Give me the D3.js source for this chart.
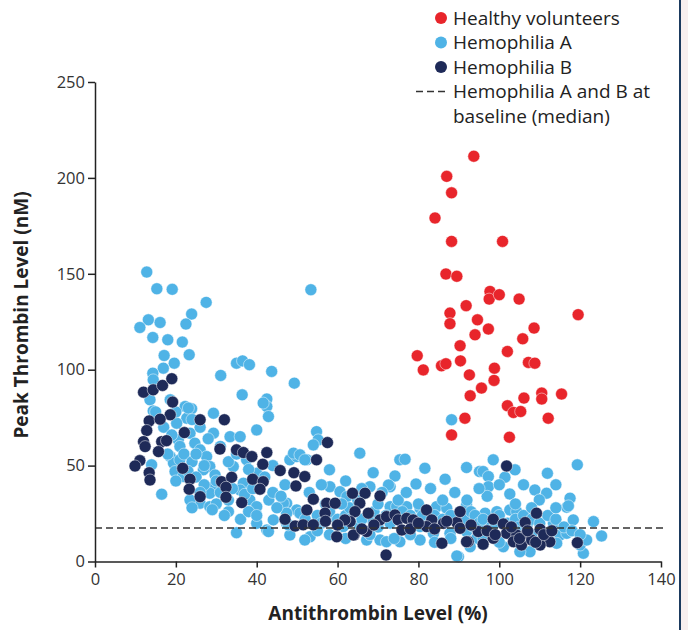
<!DOCTYPE html>
<html>
<head>
<meta charset="utf-8">
<script src="https://cdn.jsdelivr.net/npm/d3@7/dist/d3.min.js"></script>
<style>
  body { margin: 0; background: #fff; }
  svg { display: block; font-family: "Open Sans", "DejaVu Sans", sans-serif; }
  .axis path, .axis line { stroke: #222; stroke-width: 1.5; }
  .axis text { font-size: 16.5px; fill: #333; font-family: "Open Sans", sans-serif; }
</style>
</head>
<body>
<div id="chart"></div>
<script>
// data: [antithrombin %, peak thrombin nM]
var healthyPts = [
  [93.7,211.3],[87.0,200.8],[88.2,192.2],[84.1,179.1],[88.2,166.9],[100.8,166.9],
  [86.8,149.9],[89.5,148.7],[97.7,140.8],[97.5,136.8],[100.0,139.1],[104.9,136.8],
  [119.5,128.7],[91.8,133.4],[87.8,129.5],[87.8,124.0],[94.6,126.0],[97.3,121.2],
  [94.0,118.2],[108.6,121.7],[105.8,116.1],[90.3,112.5],[102.0,109.5],[79.7,107.3],
  [90.4,104.6],[107.2,103.8],[108.8,103.4],[81.2,99.9],[85.7,102.0],[86.8,103.1],
  [98.8,100.8],[92.6,97.3],[98.7,94.4],[95.6,90.4],[92.8,86.4],[106.1,85.2],
  [110.5,87.8],[110.5,84.7],[115.4,87.3],[102.0,81.2],[103.5,77.7],[105.3,78.2],
  [91.5,74.7],[112.1,74.7],[88.2,66.0],[102.5,64.8]
];

var hemAPts = [
  [12.8,150.9],[15.3,142.2],[19.1,141.9],[27.5,135.1],[23.9,129.0],[22.5,123.8],
  [13.2,126.0],[16.1,124.6],[11.1,122.0],[14.3,116.8],[18.0,115.6],[21.6,114.4],
  [23.3,107.8],[17.1,107.4],[19.6,103.4],[16.9,100.8],[14.3,98.2],[14.4,94.7],
  [31.1,97.0],[35.0,103.4],[36.5,104.6],[38.2,102.6],[43.7,99.1],[49.3,93.0],
  [36.4,86.9],[42.5,84.7],[42.5,80.8],[42.9,75.6],[53.4,141.7],[13.6,84.3],
  [18.6,84.3],[14.4,78.5],[22.3,80.8],[23.9,79.6],[22.7,74.7],[29.3,77.3],
  [16.5,35.1],[14.0,50.4],[18.6,54.7],[19.4,51.3],[19.8,46.9],[23.1,80.0],
  [20.2,72.1],[20.6,63.4],[23.5,66.9],[24.7,61.7],[26.0,58.2],[27.6,54.7],
  [28.4,49.5],[26.8,47.8],[29.7,45.1],[29.3,39.0],[28.4,35.6],[26.0,30.4],
  [28.4,28.6],[33.0,26.0],[29.3,66.9],[33.4,65.1],[35.9,65.1],[40.0,68.6],
  [37.5,53.0],[34.2,49.5],[36.7,40.8],[35.9,37.3],[38.3,32.1],[40.0,28.6],
  [41.6,82.6],[21.0,53.0],[21.8,44.3],[23.5,32.1],[35.0,15.0],[42.5,16.4],
  [40.0,19.9],[44.1,21.7],[47.4,19.9],[47.4,30.4],[49.9,26.9],[48.2,53.0],
  [49.9,54.7],[42.9,15.6],[48.2,13.8],[54.8,67.7],[55.2,63.4],[54.0,60.8],
  [49.1,56.5],[50.7,55.6],[52.4,53.0],[58.0,47.8],[65.5,56.5],[51.9,53.0],
  [68.8,46.3],[75.4,53.0],[76.7,53.3],[81.6,48.6],[74.2,44.6],[79.4,40.4],
  [86.6,42.9],[91.9,49.0],[95.1,46.9],[73.0,39.0],[58.1,39.0],[46.6,30.4],
  [47.4,25.2],[50.7,25.2],[47.8,19.1],[53.2,12.9],[60.6,36.4],[62.3,33.8],
  [58.1,23.4],[61.4,18.2],[65.5,18.2],[68.8,20.8],[68.0,39.0],[73.0,28.6],
  [74.6,28.6],[77.1,28.6],[80.4,27.8],[84.5,28.6],[87.0,27.8],[77.9,16.4],
  [80.4,18.2],[83.7,14.7],[87.8,14.7],[91.9,15.6],[93.6,18.2],[80.4,11.2],
  [75.4,10.3],[70.5,11.2],[67.2,11.2],[89.9,2.5],[51.9,11.2],[72.1,10.3],
  [88.2,73.9],[98.5,53.0],[103.9,47.8],[96.0,46.9],[97.3,44.3],[101.4,43.9],
  [97.3,39.0],[102.6,35.2],[111.9,46.0],[119.3,50.4],[108.8,37.3],[111.7,35.6],
  [109.9,32.1],[117.5,33.0],[116.7,28.3],[118.3,21.7],[123.3,20.8],[125.3,13.3],
  [120.8,4.3],[120.0,8.6],[121.6,11.2],[96.5,25.2],[99.4,26.0],[102.6,26.9],
  [104.3,26.0],[96.9,19.9],[113.4,19.9],[115.0,13.8],[114.2,9.5],[94.4,12.1],
  [92.8,7.7],[107.6,5.1],[105.1,5.1],[101.0,7.7],[110.9,14.7],[116.7,14.7],
  [91.9,29.5],[91.1,21.7],[72.6,39.9],[117.1,29.0],[89.5,2.9],
  [15.0,78.0],[17.0,70.0],[19.0,66.0],[21.0,60.0],[18.0,56.0],[22.0,56.0],
  [24.0,52.0],[25.0,56.0],[27.0,50.0],[23.0,47.0],[20.0,42.0],[25.0,44.0],
  [27.0,40.0],[30.0,42.0],[31.0,36.0],[33.0,32.0],[34.0,38.0],[30.0,30.0],
  [26.0,36.0],[24.0,28.0],[29.0,27.0],[32.0,24.0],[36.0,22.0],[38.0,26.0],
  [40.0,24.0],[37.0,35.0],[39.0,38.0],[43.0,32.0],[45.0,28.0],[44.0,36.0],
  [46.0,34.0],[47.0,40.0],[40.0,46.0],[42.0,44.0],[44.0,50.0],[38.0,48.0],
  [33.0,52.0],[35.0,56.0],[31.0,60.0],[28.0,64.0],[26.0,70.0],[24.0,74.0],
  [20.0,78.0],[52.0,22.0],[55.0,24.0],[56.0,20.0],[58.0,26.0],[60.0,22.0],
  [62.0,24.0],[63.0,28.0],[66.0,22.0],[69.0,26.0],[70.0,18.0],[72.0,24.0],
  [73.0,20.0],[76.0,26.0],[78.0,24.0],[80.0,22.0],[81.0,24.0],[83.0,20.0],
  [84.0,24.0],[86.0,22.0],[88.0,24.0],[90.0,20.0],[92.0,22.0],[93.0,26.0],
  [94.0,24.0],[95.0,20.0],[96.0,22.0],[98.0,18.0],[99.0,20.0],[100.0,24.0],
  [102.0,20.0],[104.0,22.0],[105.0,18.0],[106.0,24.0],[107.0,20.0],[108.0,22.0],
  [110.0,20.0],[112.0,24.0],[114.0,22.0],[116.0,18.0],[55.0,16.0],[58.0,14.0],
  [62.0,12.0],[68.0,14.0],[74.0,12.0],[78.0,14.0],[84.0,10.0],[88.0,12.0],
  [96.0,12.0],[100.0,10.0],[104.0,16.0],[108.0,14.0],[112.0,12.0],[118.0,16.0],
  [120.0,14.0],[57.0,30.0],[61.0,30.0],[65.0,32.0],[70.0,30.0],[75.0,32.0],
  [80.0,30.0],[86.0,32.0],[92.0,32.0],[97.0,34.0],[104.0,30.0],[108.0,28.0],
  [114.0,28.0],[53.0,36.0],[56.0,40.0],[62.0,42.0],[66.0,38.0],[71.0,36.0],
  [77.0,36.0],[83.0,38.0],[89.0,36.0],[95.0,38.0],[100.0,40.0],[106.0,40.0],
  [114.0,40.0]
];

var hemBPts = [
  [12.0,88.3],[14.4,89.5],[16.7,91.8],[19.0,95.3],[19.2,83.1],[18.6,76.5],
  [13.4,73.3],[16.1,74.2],[26.0,73.9],[32.0,73.9],[12.8,68.3],[22.1,67.2],
  [12.0,62.5],[12.4,59.9],[16.5,62.5],[17.7,63.0],[15.7,57.3],[11.1,52.6],
  [9.9,49.8],[13.4,46.3],[13.6,42.5],[21.7,48.6],[23.5,42.9],[23.3,37.7],
  [26.0,33.8],[30.9,58.6],[35.0,58.2],[36.7,56.8],[38.8,54.7],[42.5,56.8],
  [41.5,50.7],[45.8,47.4],[49.2,46.3],[49.7,39.4],[39.0,42.9],[41.6,41.6],
  [40.8,37.7],[31.3,41.6],[33.8,43.9],[32.4,38.7],[32.4,33.5],[36.3,30.7],
  [49.5,18.5],[57.5,62.0],[54.8,53.0],[51.9,44.3],[63.7,35.6],[66.8,35.6],
  [70.5,34.2],[54.0,32.5],[52.4,26.9],[57.3,30.4],[59.4,30.4],[56.9,25.2],
  [65.5,30.4],[64.3,26.0],[67.6,25.2],[63.1,20.8],[61.8,21.7],[51.5,19.1],
  [54.0,19.1],[59.8,12.9],[64.1,13.8],[67.2,15.6],[70.5,21.7],[72.1,23.4],
  [74.2,24.3],[75.0,21.7],[77.1,22.5],[78.7,21.7],[75.9,16.4],[72.0,3.4],
  [82.0,26.9],[83.3,21.7],[82.0,18.2],[86.2,19.9],[89.5,20.3],[90.3,26.0],
  [85.8,9.5],[92.3,10.3],[101.8,49.8],[109.2,25.2],[98.5,22.0],[101.0,19.6],
  [106.4,20.3],[110.1,16.8],[101.8,14.7],[104.3,13.8],[106.8,14.7],[103.5,10.3],
  [105.5,8.6],[108.0,11.2],[110.9,11.2],[112.5,10.3],[110.1,8.6],[98.5,12.1],
  [91.9,10.3],[94.8,15.6],[90.3,17.3],[119.3,9.8],[63.9,13.8],[47.0,22.0],
  [57.0,21.0],[60.0,19.0],[66.0,17.0],[69.0,19.0],[78.0,17.0],[80.0,20.0],
  [84.0,17.0],[87.0,21.0],[93.0,19.0],[97.0,16.0],[99.0,14.0],[103.0,18.0],
  [105.0,12.0],[107.0,16.0],[109.0,10.0],[111.0,14.0],[113.0,16.0],[96.0,9.0]
];

var medianBaseline = 17.5;
var xTicks = [0, 20, 40, 60, 80, 100, 120, 140];
var yTicks = [0, 50, 100, 150, 200, 250];
var legendItems = ["Healthy volunteers", "Hemophilia A", "Hemophilia B"];

var colors = { healthy: "#e8252b", hemA: "#4fb3e6", hemB: "#1e2a58" };

var W = 688, H = 630;
var svg = d3.select("#chart").append("svg").attr("width", W).attr("height", H);

var x = d3.scaleLinear().domain([0, 140]).range([95, 661]);
var y = d3.scaleLinear().domain([0, 250]).range([561.5, 82]);

// right border strip like the source image
svg.append("rect").attr("x", 681).attr("y", 0).attr("width", 7).attr("height", H).attr("fill", "#f7efef");
svg.append("line").attr("x1", 680).attr("x2", 680).attr("y1", 0).attr("y2", H)
  .attr("stroke", "#1b3a5e").attr("stroke-width", 2);

// dots
function drawDots(pts, col) {
  svg.append("g").selectAll("circle").data(pts).enter().append("circle")
    .attr("cx", function (d) { return x(d[0]); })
    .attr("cy", function (d) { return y(d[1]); })
    .attr("r", 6)
    .attr("fill", col)
    .attr("stroke", "#fff")
    .attr("stroke-opacity", 0.6)
    .attr("stroke-width", 0.8);
}
drawDots(hemAPts, colors.hemA);
drawDots(hemBPts, colors.hemB);
drawDots(healthyPts, colors.healthy);

// median line
svg.append("line")
  .attr("x1", x(0)).attr("x2", x(140) + 3)
  .attr("y1", y(medianBaseline)).attr("y2", y(medianBaseline))
  .attr("stroke", "#333").attr("stroke-width", 1.6).attr("stroke-dasharray", "7,4");

// axes
svg.append("g").attr("class", "axis")
  .attr("transform", "translate(0," + y(0) + ")")
  .call(d3.axisBottom(x).tickValues(xTicks).tickSize(6).tickPadding(6).tickSizeOuter(0));

svg.append("g").attr("class", "axis")
  .attr("transform", "translate(" + x(0) + ",0)")
  .call(d3.axisLeft(y).tickValues(yTicks).tickSize(7).tickPadding(3).tickSizeOuter(0));

// axis titles
svg.append("text")
  .attr("x", 378).attr("y", 620)
  .attr("text-anchor", "middle")
  .style("font-size", "19px").style("font-weight", "bold").style("fill", "#222")
  .text("Antithrombin Level (%)");

svg.append("text")
  .attr("transform", "translate(28," + 315 + ") rotate(-90)")
  .attr("text-anchor", "middle")
  .style("font-size", "19px").style("font-weight", "bold").style("fill", "#222")
  .text("Peak Thrombin Level (nM)");

// legend
var legendCols = [colors.healthy, colors.hemA, colors.hemB];
var lg = svg.append("g").attr("class", "legend");
legendItems.forEach(function (name, i) {
  var cy = 18 + i * 24.5;
  lg.append("circle").attr("cx", 441).attr("cy", cy).attr("r", 6).attr("fill", legendCols[i]);
  lg.append("text").attr("x", 453).attr("y", cy + 6.5)
    .style("font-size", "19px").style("fill", "#222").text(name);
});
lg.append("line").attr("x1", 416).attr("x2", 447).attr("y1", 91.5).attr("y2", 91.5)
  .attr("stroke", "#333").attr("stroke-width", 1.6).attr("stroke-dasharray", "7,4");
lg.append("text").attr("x", 453).attr("y", 98)
  .style("font-size", "19px").style("fill", "#222").text("Hemophilia A and B at");
lg.append("text").attr("x", 453).attr("y", 122.5)
  .style("font-size", "19px").style("fill", "#222").text("baseline (median)");
</script>
</body>
</html>
